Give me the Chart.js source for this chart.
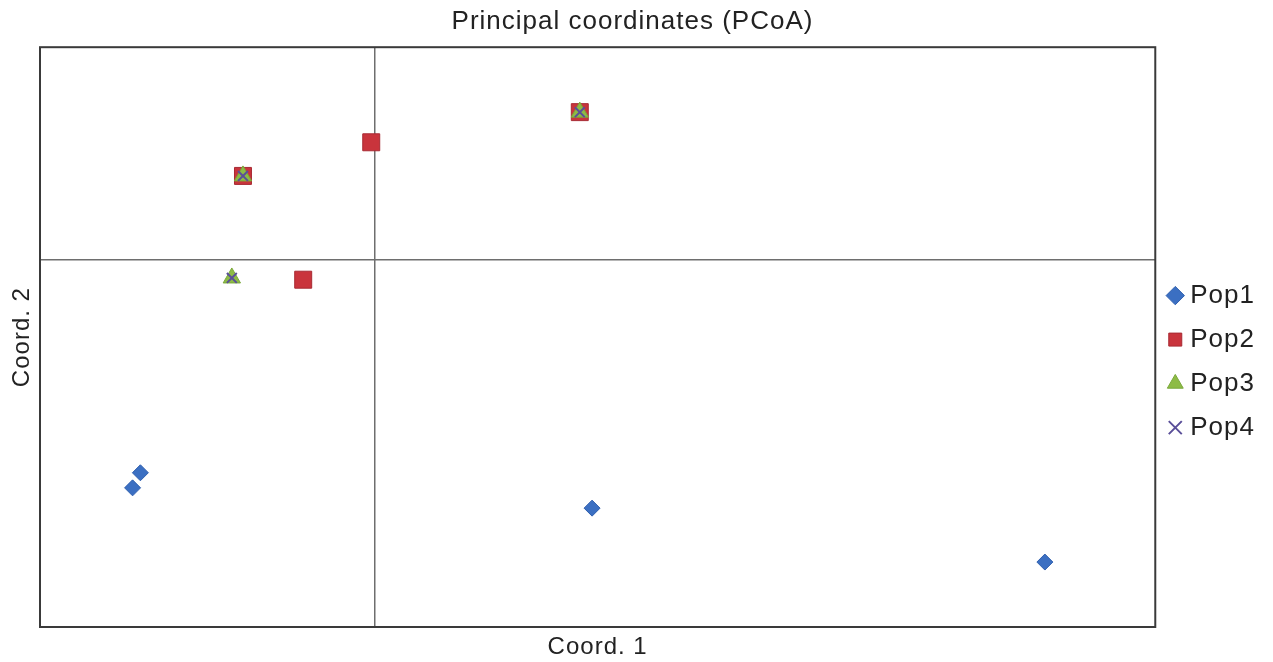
<!DOCTYPE html>
<html>
<head>
<meta charset="utf-8">
<script src="https://cdn.jsdelivr.net/npm/chart.js@4.4.1/dist/chart.umd.min.js"></script>
<style>
  html, body { margin: 0; padding: 0; background: #fff; }
  #wrap { width: 1273px; height: 662px; }
</style>
</head>
<body>
<div id="wrap"><canvas id="c" width="1273" height="662"></canvas></div>
<script>
// PCoA coordinates for each population (Coord. 1, Coord. 2)
const pop1X = [-0.210, -0.217, 0.195, 0.601];
const pop1Y = [-0.367, -0.393, -0.428, -0.521];
const pop2X = [-0.118, -0.003, 0.184, -0.064];
const pop2Y = [0.145, 0.203, 0.255, -0.034];
const pop3X = [-0.118, -0.128, 0.184];
const pop3Y = [0.145, -0.031, 0.255];
const pop4X = [-0.118, 0.184, -0.128];
const pop4Y = [0.145, 0.255, -0.031];
const seriesNames = ['Pop1', 'Pop2', 'Pop3', 'Pop4'];

const pts = (xs, ys) => xs.map((x, i) => ({ x: x, y: ys[i] }));
const FONT = 'Liberation Sans, Arial, sans-serif';

// slightly wider text spacing for all labels
const spacingPlugin = {
  id: 'spacing',
  beforeUpdate(chart) { chart.ctx.letterSpacing = '1px'; },
  beforeDraw(chart) { chart.ctx.letterSpacing = '1px'; }
};

// frame around the plot area
const framePlugin = {
  id: 'frame',
  afterDraw(chart) {
    const a = chart.chartArea, ctx = chart.ctx;
    ctx.save();
    ctx.strokeStyle = '#3a3a3a';
    ctx.lineWidth = 2;
    ctx.strokeRect(a.left, a.top, a.right - a.left, a.bottom - a.top);
    ctx.restore();
  }
};

const zeroOnly = (ctx) => (ctx.tick && Math.abs(ctx.tick.value) < 1e-9) ? '#6e6e6e' : 'rgba(0,0,0,0)';

new Chart(document.getElementById('c'), {
  type: 'scatter',
  data: {
    datasets: [
      { label: seriesNames[0], data: pts(pop1X, pop1Y), pointStyle: 'rectRot', pointRadius: 8, pointHoverRadius: 8,
        backgroundColor: '#3b6fc2', borderColor: '#2f5fae', borderWidth: 1, order: 3 },
      { label: seriesNames[1], data: pts(pop2X, pop2Y), pointStyle: 'rect', pointRadius: 12, pointHoverRadius: 12,
        backgroundColor: '#c9343c', borderColor: '#a82a33', borderWidth: 1, order: 2 },
      { label: seriesNames[2], data: pts(pop3X, pop3Y), pointStyle: 'triangle', pointRadius: 10, pointHoverRadius: 10,
        backgroundColor: '#8dbb45', borderColor: '#7aa83a', borderWidth: 1, order: 1 },
      { label: seriesNames[3], data: pts(pop4X, pop4Y), pointStyle: 'crossRot', pointRadius: 7, pointHoverRadius: 7,
        backgroundColor: '#5a4f99', borderColor: '#5a4f99', borderWidth: 2, order: 0 }
    ]
  },
  options: {
    responsive: false,
    animation: false,
    devicePixelRatio: 1,
    layout: { padding: { left: 0, right: 8, top: 0, bottom: 0 } },
    plugins: {
      title: {
        display: true,
        text: 'Principal coordinates (PCoA)',
        color: '#222',
        font: { family: FONT, size: 26, weight: 'normal' },
        padding: { top: 6, bottom: 10 }
      },
      legend: {
        position: 'right',
        align: 'center',
        fullSize: false,
        title: {
          display: true,
          text: ' ',
          font: { family: FONT, size: 20 },
          padding: { top: 12, bottom: 13 }
        },
        labels: {
          usePointStyle: true,
          boxWidth: 4,
          boxHeight: 13,
          padding: 18,
          color: '#222',
          font: { family: FONT, size: 26 },
          sort: (a, b) => a.datasetIndex - b.datasetIndex
        }
      },
      tooltip: { enabled: false }
    },
    scales: {
      x: {
        type: 'linear',
        min: -0.30,
        max: 0.70,
        afterBuildTicks: (s) => { s.ticks = [{ value: 0 }]; },
        afterFit: (s) => { s.height = 35; },
        ticks: { display: false },
        border: { display: false },
        grid: { color: zeroOnly, lineWidth: 1.5, drawTicks: false },
        title: {
          display: true, text: 'Coord. 1', color: '#222',
          font: { family: FONT, size: 24 },
          padding: { top: 4, bottom: 0 }
        }
      },
      y: {
        type: 'linear',
        min: -0.633,
        max: 0.367,
        afterBuildTicks: (s) => { s.ticks = [{ value: 0 }]; },
        afterFit: (s) => { s.width = 40; },
        ticks: { display: false },
        border: { display: false },
        grid: { color: zeroOnly, lineWidth: 1.5, drawTicks: false },
        title: {
          display: true, text: 'Coord. 2', color: '#222',
          font: { family: FONT, size: 24 },
          padding: { top: 8, bottom: 0 }
        }
      }
    }
  },
  plugins: [spacingPlugin, framePlugin]
});
</script>
</body>
</html>
